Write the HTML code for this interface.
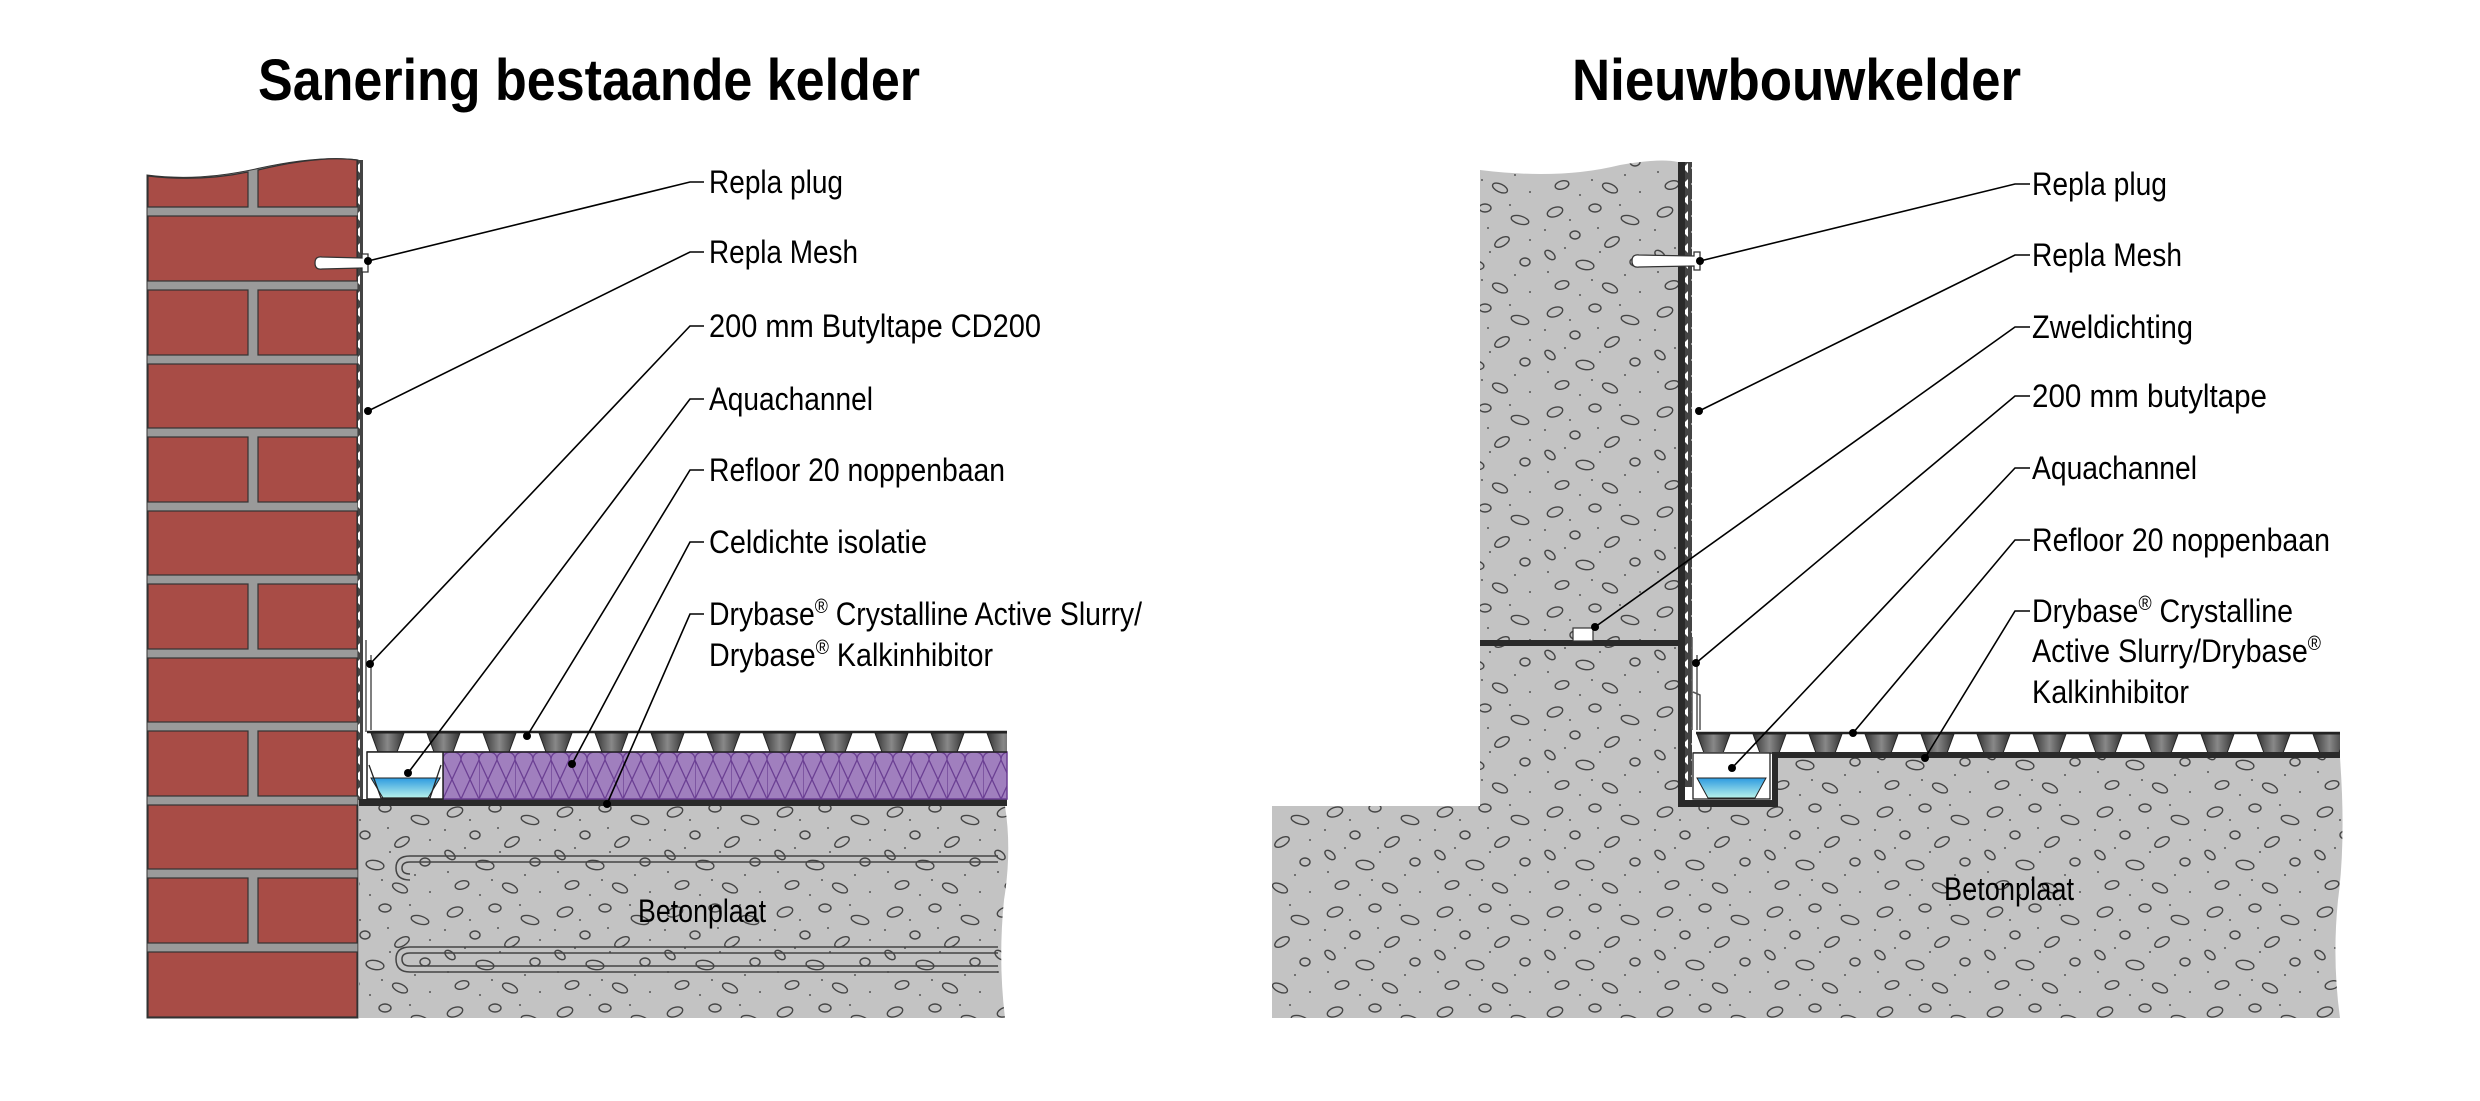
<!DOCTYPE html>
<html><head><meta charset="utf-8"><style>
html,body{margin:0;padding:0;background:#fff;}
svg{display:block}
.t{font-family:"Liberation Sans Narrow","Liberation Sans",sans-serif;font-weight:bold;font-size:58px;fill:#000}
.l{font-family:"Liberation Sans Narrow","Liberation Sans",sans-serif;font-size:32px;fill:#000}
.s{font-size:20px}
</style></head><body>
<svg width="2480" height="1101" viewBox="0 0 2480 1101" xmlns="http://www.w3.org/2000/svg">
<defs>
<pattern id="con" width="110" height="100" patternUnits="userSpaceOnUse">
<rect width="110" height="100" fill="#c3c3c3"/>
<g fill="none" stroke="#444" stroke-width="1.4">
<ellipse cx="15" cy="12" rx="8" ry="4.5" transform="rotate(-20 15 12)"/>
<ellipse cx="55" cy="8" rx="6" ry="4"/>
<ellipse cx="90" cy="20" rx="9" ry="4" transform="rotate(15 90 20)"/>
<ellipse cx="35" cy="35" rx="5" ry="4"/>
<ellipse cx="72" cy="42" rx="8" ry="4" transform="rotate(-30 72 42)"/>
<ellipse cx="10" cy="55" rx="6" ry="3.5" transform="rotate(40 10 55)"/>
<ellipse cx="45" cy="65" rx="9" ry="4.5" transform="rotate(10 45 65)"/>
<ellipse cx="95" cy="62" rx="5" ry="4"/>
<ellipse cx="22" cy="85" rx="7" ry="4" transform="rotate(-15 22 85)"/>
<ellipse cx="70" cy="88" rx="8" ry="4" transform="rotate(25 70 88)"/>
</g>
<g fill="#555">
<circle cx="30" cy="20" r="1"/><circle cx="80" cy="5" r="1"/><circle cx="5" cy="30" r="1"/>
<circle cx="58" cy="28" r="1"/><circle cx="100" cy="40" r="1"/><circle cx="25" cy="48" r="1"/>
<circle cx="60" cy="52" r="1"/><circle cx="85" cy="75" r="1"/><circle cx="8" cy="72" r="1"/>
<circle cx="40" cy="95" r="1"/><circle cx="100" cy="92" r="1"/><circle cx="52" cy="80" r="1"/>
</g>
</pattern>
<pattern id="ins" x="443" y="752" width="36" height="47" patternUnits="userSpaceOnUse">
<rect width="36" height="47" fill="#a07fbe"/>
<path d="M0 47 L18 8 Q18 0 9 0 Q0 0 0 8 L0 47 M36 47 L18 8 M36 8 Q36 0 27 0 Q18 0 18 8 M18 47 L0 8 M18 47 L36 8" fill="none" stroke="#6b3f93" stroke-width="1.3"/>
</pattern>
<linearGradient id="water" x1="0" y1="0" x2="0" y2="1"><stop offset="0" stop-color="#2d9ae0"/><stop offset="1" stop-color="#b8f2ea"/></linearGradient>
<linearGradient id="cone" x1="0" y1="0" x2="1" y2="0"><stop offset="0" stop-color="#333"/><stop offset=".5" stop-color="#888"/><stop offset="1" stop-color="#333"/></linearGradient>
<pattern id="nop" x="370" y="732" width="56" height="20" patternUnits="userSpaceOnUse">
<path d="M1 1 L34 1 L27 20 L8 20 Z" fill="url(#cone)" stroke="#222" stroke-width="1"/>
</pattern>
<pattern id="nop2" x="1696" y="733" width="56" height="20" patternUnits="userSpaceOnUse">
<path d="M1 1 L34 1 L27 20 L8 20 Z" fill="url(#cone)" stroke="#222" stroke-width="1"/>
</pattern>
<pattern id="mesh" width="8" height="16" patternUnits="userSpaceOnUse">
<rect width="8" height="16" fill="#444"/><path d="M8 3 L3 8 L8 13 Z" fill="#fff"/>
</pattern>
</defs>

<text class="t" x="258" y="100" textLength="662" lengthAdjust="spacingAndGlyphs">Sanering bestaande kelder</text>
<text class="t" x="1572" y="100" textLength="449" lengthAdjust="spacingAndGlyphs">Nieuwbouwkelder</text>

<path d="M147 175 Q200 182 260 168 Q320 155 358 160 L358 1018 L147 1018 Z" fill="#9a9a9a" stroke="#333" stroke-width="1"/>
<g fill="#a84c46" stroke="#333" stroke-width="1.2">
<path d="M148 176 Q200 182 248 172 L248 207 L148 207 Z"/>
<path d="M258 170 Q320 155 357 160 L357 207 L258 207 Z"/>
<rect x="148" y="216" width="209" height="65"/>
<rect x="148" y="290" width="100" height="65"/><rect x="258" y="290" width="99" height="65"/>
<rect x="148" y="364" width="209" height="64"/>
<rect x="148" y="437" width="100" height="65"/><rect x="258" y="437" width="99" height="65"/>
<rect x="148" y="511" width="209" height="64"/>
<rect x="148" y="584" width="100" height="65"/><rect x="258" y="584" width="99" height="65"/>
<rect x="148" y="658" width="209" height="64"/>
<rect x="148" y="731" width="100" height="65"/><rect x="258" y="731" width="99" height="65"/>
<rect x="148" y="805" width="209" height="64"/>
<rect x="148" y="878" width="100" height="65"/><rect x="258" y="878" width="99" height="65"/>
<rect x="148" y="952" width="209" height="65"/>
</g>
<rect x="358" y="160" width="5" height="640" fill="url(#mesh)"/>
<path d="M315 263 Q315 256 322 257 L362 258 L362 254 L368 254 L368 272 L362 272 L362 268 L322 269 Q315 270 315 263 Z" fill="#fff" stroke="#333" stroke-width="1.3"/>
<path d="M366 640 L366 732 M371 655 L371 730" stroke="#555" stroke-width="1.5" fill="none"/>
<path d="M359 806 L1005 806 Q1012 850 1004 900 Q998 960 1005 1018 L359 1018 Z" fill="url(#con)"/>
<rect x="359" y="799" width="648" height="7" fill="#2a2a2a"/>
<path d="M998 856 L410 856 Q396 856 396 868 Q396 880 410 880 M998 862 L410 862 Q402 862 402 868 Q402 874 410 874" fill="none" stroke="#444" stroke-width="1.5"/>
<path d="M998 947 L410 947 Q396 947 396 959 Q396 972 410 972 L998 972 M998 953 L410 953 Q402 953 402 959 Q402 966 410 966 L998 966" fill="none" stroke="#444" stroke-width="1.5"/>
<rect x="443" y="752" width="564" height="47" fill="url(#ins)" stroke="#6b3f93" stroke-width="1.5"/>
<rect x="367" y="732" width="640" height="20" fill="url(#nop)"/>
<line x1="367" y1="732" x2="1007" y2="732" stroke="#222" stroke-width="2.5"/>
<line x1="367" y1="752" x2="1007" y2="752" stroke="#222" stroke-width="1.5"/>
<rect x="367" y="752" width="76" height="47" fill="#fff" stroke="#222" stroke-width="1.5"/>
<path d="M371 778 L440 778 L428 798 L383 798 Z" fill="url(#water)" stroke="#222" stroke-width="1"/>
<path d="M369 765 L381 798 L430 798 L441 765" fill="none" stroke="#222" stroke-width="1.3"/>
<text class="l" x="638" y="922" textLength="128" lengthAdjust="spacingAndGlyphs">Betonplaat</text>

<g stroke="#000" stroke-width="1.6" fill="none">
<path d="M704 182 L690 182 L368 261"/>
<path d="M704 252 L690 252 L368 411"/>
<path d="M704 326 L690 326 L370 664"/>
<path d="M704 399 L690 399 L408 773"/>
<path d="M704 470 L690 470 L527 736"/>
<path d="M704 542 L690 542 L572 764"/>
<path d="M704 614 L690 614 L607 804"/>
</g>
<g fill="#000"><circle cx="368" cy="261" r="4"/><circle cx="368" cy="411" r="4"/><circle cx="370" cy="664" r="4"/><circle cx="408" cy="773" r="4"/><circle cx="527" cy="736" r="4"/><circle cx="572" cy="764" r="4"/><circle cx="607" cy="804" r="4"/></g>
<g class="l">
<text x="709" y="193" textLength="134" lengthAdjust="spacingAndGlyphs">Repla plug</text>
<text x="709" y="263" textLength="149" lengthAdjust="spacingAndGlyphs">Repla Mesh</text>
<text x="709" y="337" textLength="332" lengthAdjust="spacingAndGlyphs">200 mm Butyltape CD200</text>
<text x="709" y="410" textLength="164" lengthAdjust="spacingAndGlyphs">Aquachannel</text>
<text x="709" y="481" textLength="296" lengthAdjust="spacingAndGlyphs">Refloor 20 noppenbaan</text>
<text x="709" y="553" textLength="218" lengthAdjust="spacingAndGlyphs">Celdichte isolatie</text>
<text x="709" y="625" textLength="433" lengthAdjust="spacingAndGlyphs">Drybase<tspan class="s" dy="-12">®</tspan><tspan dy="12"> Crystalline Active Slurry/</tspan></text>
<text x="709" y="666" textLength="284" lengthAdjust="spacingAndGlyphs">Drybase<tspan class="s" dy="-12">®</tspan><tspan dy="12"> Kalkinhibitor</tspan></text>
</g>

<path d="M1480 170 Q1560 180 1620 165 Q1660 158 1678 162 L1678 806 L1272 806 L1272 1018 L2340 1018 Q2332 960 2338 900 Q2346 840 2340 758 L1778 758 L1778 807 L1678 807 L1678 806 L1480 806 Z" fill="url(#con)"/>
<rect x="1480" y="640" width="198" height="6" fill="#2a2a2a"/>
<rect x="1678" y="162" width="7" height="645" fill="#2a2a2a"/>
<rect x="1678" y="800" width="100" height="7" fill="#2a2a2a"/>
<rect x="1772" y="752" width="6" height="55" fill="#2a2a2a"/>
<rect x="1772" y="752" width="568" height="6" fill="#2a2a2a"/>
<rect x="1685" y="162" width="7" height="625" fill="url(#mesh)"/>
<rect x="1573" y="628" width="20" height="13" fill="#fff" stroke="#333" stroke-width="1.2"/>
<path d="M1632 261 Q1632 254 1639 255 L1694 256 L1694 252 L1700 252 L1700 270 L1694 270 L1694 266 L1639 267 Q1632 268 1632 261 Z" fill="#fff" stroke="#333" stroke-width="1.3"/>
<path d="M1692 637 L1692 730 M1697 655 L1697 730 M1693 692 L1700 695 L1700 730" stroke="#555" stroke-width="1.5" fill="none"/>
<rect x="1696" y="733" width="644" height="19" fill="url(#nop2)"/>
<line x1="1696" y1="733" x2="2340" y2="733" stroke="#222" stroke-width="2.5"/>
<line x1="1693" y1="753" x2="1772" y2="753" stroke="#222" stroke-width="1.5"/>
<rect x="1693" y="753" width="77" height="46" fill="#fff" stroke="#222" stroke-width="1.3"/>
<path d="M1697 778 L1766 778 L1755 798 L1708 798 Z" fill="url(#water)" stroke="#222" stroke-width="1"/>
<text class="l" x="1944" y="900" textLength="130" lengthAdjust="spacingAndGlyphs">Betonplaat</text>

<g stroke="#000" stroke-width="1.6" fill="none">
<path d="M2030 184 L2015 184 L1700 261"/>
<path d="M2030 255 L2015 255 L1699 411"/>
<path d="M2030 327 L2015 327 L1595 627"/>
<path d="M2030 396 L2015 396 L1696 663"/>
<path d="M2030 468 L2015 468 L1732 768"/>
<path d="M2030 540 L2015 540 L1853 733"/>
<path d="M2030 611 L2015 611 L1925 758"/>
</g>
<g fill="#000"><circle cx="1700" cy="261" r="4"/><circle cx="1699" cy="411" r="4"/><circle cx="1595" cy="627" r="4"/><circle cx="1696" cy="663" r="4"/><circle cx="1732" cy="768" r="4"/><circle cx="1853" cy="733" r="4"/><circle cx="1925" cy="758" r="4"/></g>
<g class="l">
<text x="2032" y="195" textLength="135" lengthAdjust="spacingAndGlyphs">Repla plug</text>
<text x="2032" y="266" textLength="150" lengthAdjust="spacingAndGlyphs">Repla Mesh</text>
<text x="2032" y="338" textLength="161" lengthAdjust="spacingAndGlyphs">Zweldichting</text>
<text x="2032" y="407" textLength="235" lengthAdjust="spacingAndGlyphs">200 mm butyltape</text>
<text x="2032" y="479" textLength="165" lengthAdjust="spacingAndGlyphs">Aquachannel</text>
<text x="2032" y="551" textLength="298" lengthAdjust="spacingAndGlyphs">Refloor 20 noppenbaan</text>
<text x="2032" y="622" textLength="261" lengthAdjust="spacingAndGlyphs">Drybase<tspan class="s" dy="-12">®</tspan><tspan dy="12"> Crystalline</tspan></text>
<text x="2032" y="662" textLength="289" lengthAdjust="spacingAndGlyphs">Active Slurry/Drybase<tspan class="s" dy="-12">®</tspan></text>
<text x="2032" y="703" textLength="157" lengthAdjust="spacingAndGlyphs">Kalkinhibitor</text>
</g>
</svg>
</body></html>
